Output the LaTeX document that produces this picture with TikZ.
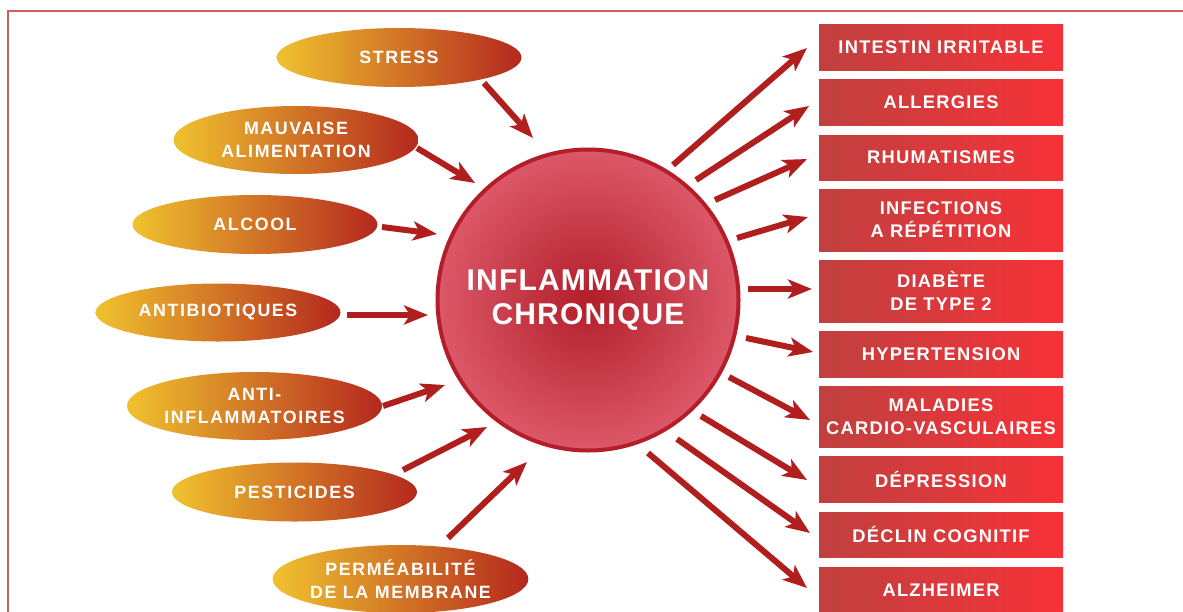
\documentclass[tikz,border=0pt]{standalone}
\usepackage{fontspec}
\setmainfont{Liberation Sans}
\newfontfamily\ellfont[LetterSpace=9]{Liberation Sans}
\newfontfamily\boxfont[LetterSpace=7]{Liberation Sans}
\newfontfamily\cenfont[LetterSpace=4]{Liberation Sans}
\usetikzlibrary{shapes.geometric,arrows.meta}
\definecolor{arrowred}{RGB}{176,30,30}
\definecolor{framecol}{RGB}{208,96,96}
\definecolor{ellL}{RGB}{240,194,46}
\definecolor{ellM}{RGB}{218,138,40}
\definecolor{ellR}{RGB}{180,40,30}
\definecolor{boxL}{RGB}{192,64,63}
\definecolor{boxR}{RGB}{246,50,56}
\definecolor{circB}{RGB}{180,30,40}
\definecolor{circI}{RGB}{178,30,42}
\definecolor{circO}{RGB}{220,88,104}
\begin{document}
\begin{tikzpicture}[x=1pt,y=-1pt,
  ell/.style={ellipse, minimum width=245pt, minimum height=59pt, inner sep=0pt,
    left color=ellL, middle color=ellM, right color=ellR, text=white, align=center,
    font=\ellfont\bfseries\fontsize{17.8}{23}\selectfont},
  tall/.style={minimum height=68pt},
  illbox/.style={rectangle, minimum width=244pt, minimum height=46pt, inner sep=0pt,
    left color=boxL, right color=boxR, text=white, align=center,
    font=\boxfont\bfseries\fontsize{18.3}{23}\selectfont},
  arr/.style={draw=arrowred, line width=6pt, -{Stealth[length=24pt,width=19pt,inset=6pt]}}]
\useasboundingbox (0,0) rectangle (1183,611);
\fill[white] (0,0) rectangle (1183,611);
\draw[framecol, line width=1.5pt] (8,615) -- (8,11) -- (1185,11);

% centre
\node[circle, minimum size=301pt, inner sep=0pt, draw=circB, line width=4pt,
  inner color=circI, outer color=circO, text=white, align=center,
  font=\cenfont\bfseries\fontsize{30}{34}\selectfont] (inf) at (588,300) {INFLAMMATION\\CHRONIQUE};

% causes
\node[ell] (stress) at (399,57.5) {STRESS};
\node[ell,tall] (mauv) at (296,140) {MAUVAISE\\ALIMENTATION};
\node[ell] (alcool) at (255,224.5) {ALCOOL};
\node[ell,minimum height=58pt] (antib) at (218,312.5) {ANTIBIOTIQUES};
\node[ell,tall] (antiinf) at (254.5,406) {ANTI-\\INFLAMMATOIRES};
\node[ell] (pest) at (294.5,492) {PESTICIDES};
\node[ell,tall] (perm) at (400.5,579) {PERMÉABILITÉ\\DE LA MEMBRANE};

% effects
\node[illbox] (b1) at (941,47) {INTESTIN IRRITABLE};
\node[illbox] (b2) at (941,102) {ALLERGIES};
\node[illbox,minimum height=45pt] (b3) at (941,157.5) {RHUMATISMES};
\node[illbox,minimum height=62pt] (b4) at (941,220) {INFECTIONS\\A RÉPÉTITION};
\node[illbox,minimum height=62pt] (b5) at (941,291) {DIABÈTE\\DE TYPE 2};
\node[illbox] (b6) at (941,354) {HYPERTENSION};
\node[illbox,minimum height=61pt] (b7) at (941,416.5) {MALADIES\\CARDIO-VASCULAIRES};
\node[illbox] (b8) at (941,479) {DÉPRESSION};
\node[illbox,minimum height=45pt] (b9) at (941,534.5) {DÉCLIN COGNITIF};
\node[illbox] (b10) at (941,590) {ALZHEIMER};

% arrow end points
\coordinate (sStress) at (484,83);  \coordinate (tStress) at (533,138);
\coordinate (sMauv) at (417,148);   \coordinate (tMauv) at (475,183);
\coordinate (sAlc) at (382,227);    \coordinate (tAlc) at (437,234);
\coordinate (sAntib) at (347,315);  \coordinate (tAntib) at (428,315);
\coordinate (sAnti) at (383,406);   \coordinate (tAnti) at (445,385);
\coordinate (sPest) at (403,470);   \coordinate (tPest) at (487,427);
\coordinate (sPerm) at (448,538);   \coordinate (tPerm) at (527,462);

\coordinate (o1) at (673,165);  \coordinate (e1) at (807,48);
\coordinate (o2) at (696,180);  \coordinate (e2) at (809,106);
\coordinate (o3) at (715,200);  \coordinate (e3) at (807,159);
\coordinate (o4) at (737,238);  \coordinate (e4) at (808,217);
\coordinate (o5) at (748,289);  \coordinate (e5) at (812,289);
\coordinate (o6) at (746,338);  \coordinate (e6) at (813,352);
\coordinate (o7) at (729,377);  \coordinate (e7) at (810,420);
\coordinate (o8) at (701,416);  \coordinate (e8) at (807,480);
\coordinate (o9) at (677,439);  \coordinate (e9) at (810,533);
\coordinate (o10) at (648,453); \coordinate (e10) at (807,588);

\draw[arr] (sStress) -- (tStress);
\draw[arr] (sMauv) -- (tMauv);
\draw[arr] (sAlc) -- (tAlc);
\draw[arr] (sAntib) -- (tAntib);
\draw[arr] (sAnti) -- (tAnti);
\draw[arr] (sPest) -- (tPest);
\draw[arr] (sPerm) -- (tPerm);

\foreach \i in {1,...,10} {\draw[arr] (o\i) -- (e\i);}
\end{tikzpicture}
\end{document}
